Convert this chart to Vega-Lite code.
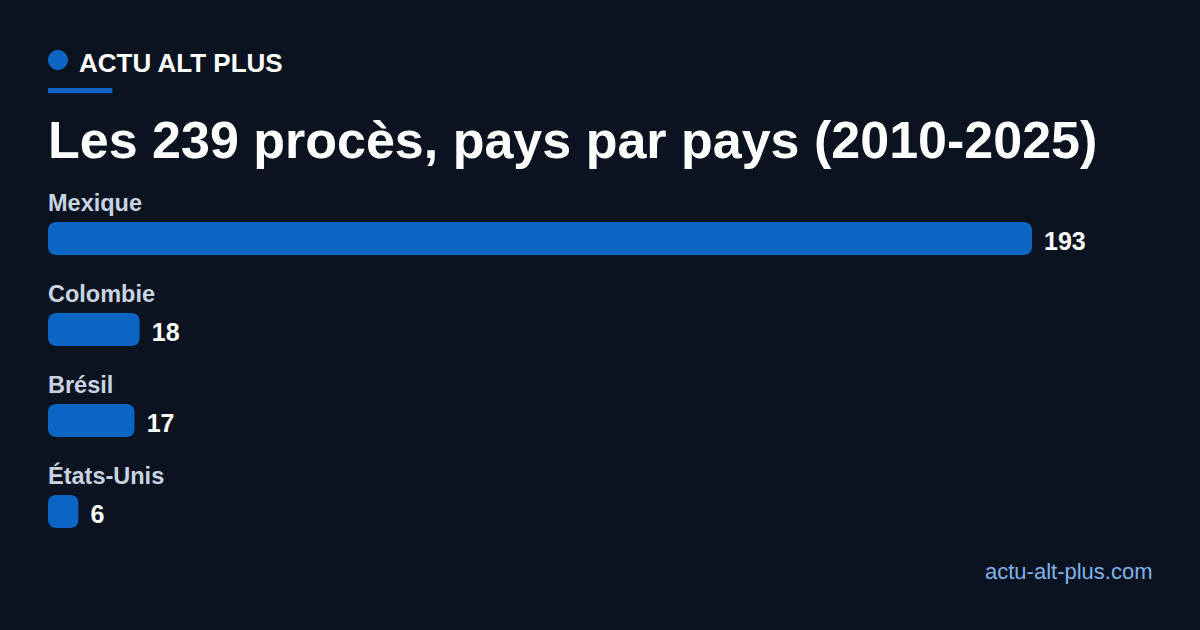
{
  "$schema": "https://vega.github.io/schema/vega-lite/v6.json",
  "width": 1200,
  "height": 630,
  "autosize": {"type": "none"},
  "padding": 0,
  "background": "#0b1320",
  "config": {"view": {"stroke": null}, "font": "Liberation Sans"},
  "title": {
    "text": "Les 239 procès, pays par pays (2010-2025)",
    "anchor": "start",
    "frame": "group",
    "dx": 48,
    "offset": -169,
    "fontSize": 52,
    "fontWeight": "bold",
    "color": "#ffffff"
  },
  "data": {
    "values": [
      {"pays": "Mexique", "proces": 193},
      {"pays": "Colombie", "proces": 18},
      {"pays": "Brésil", "proces": 17},
      {"pays": "États-Unis", "proces": 6}
    ]
  },
  "encoding": {
    "y": {
      "field": "pays",
      "type": "nominal",
      "sort": null,
      "scale": {"range": [193, 557], "paddingInner": 0, "paddingOuter": 0},
      "axis": null
    }
  },
  "layer": [
    {
      "mark": {"type": "bar", "height": 33, "cornerRadius": 8},
      "encoding": {
        "x": {
          "field": "proces",
          "type": "quantitative",
          "scale": {"domain": [0, 193], "range": [48, 1032], "nice": false},
          "axis": {
            "title": "actu-alt-plus.com",
            "domain": false,
            "ticks": false,
            "labels": false,
            "grid": false,
            "titleX": 1152,
            "titleY": -52,
            "titleAlign": "right",
            "titleBaseline": "alphabetic",
            "titleFontSize": 22,
            "titleFontWeight": "normal",
            "titleColor": "#7fb3ea"
          }
        },
        "color": {
          "datum": "ACTU ALT PLUS",
          "scale": {"range": ["#0b66c3"]},
          "legend": {
            "title": null,
            "orient": "none",
            "legendX": 45,
            "legendY": 51,
            "padding": 0,
            "symbolType": "M0,-1.4A1,1,0,1,1,0,0.6A1,1,0,1,1,0,-1.4ZM-1,2.4H5.43V2.93H-1Z",
            "symbolSize": 400,
            "symbolStrokeWidth": 0,
            "symbolOpacity": 1,
            "labelFontSize": 26,
            "labelFontWeight": "bold",
            "labelColor": "#ffffff",
            "labelOffset": 8,
            "labelLimit": 0
          }
        }
      }
    },
    {
      "mark": {
        "type": "text",
        "align": "left",
        "baseline": "alphabetic",
        "dy": -28,
        "fontSize": 23.5,
        "fontWeight": "bold",
        "color": "#c9d4e2"
      },
      "encoding": {
        "x": {"datum": 0},
        "text": {"field": "pays"}
      }
    },
    {
      "mark": {
        "type": "text",
        "align": "left",
        "baseline": "alphabetic",
        "dx": 12,
        "dy": 11,
        "fontSize": 25,
        "fontWeight": "bold",
        "color": "#ffffff"
      },
      "encoding": {
        "x": {"field": "proces", "type": "quantitative"},
        "text": {"field": "proces"}
      }
    }
  ]
}
